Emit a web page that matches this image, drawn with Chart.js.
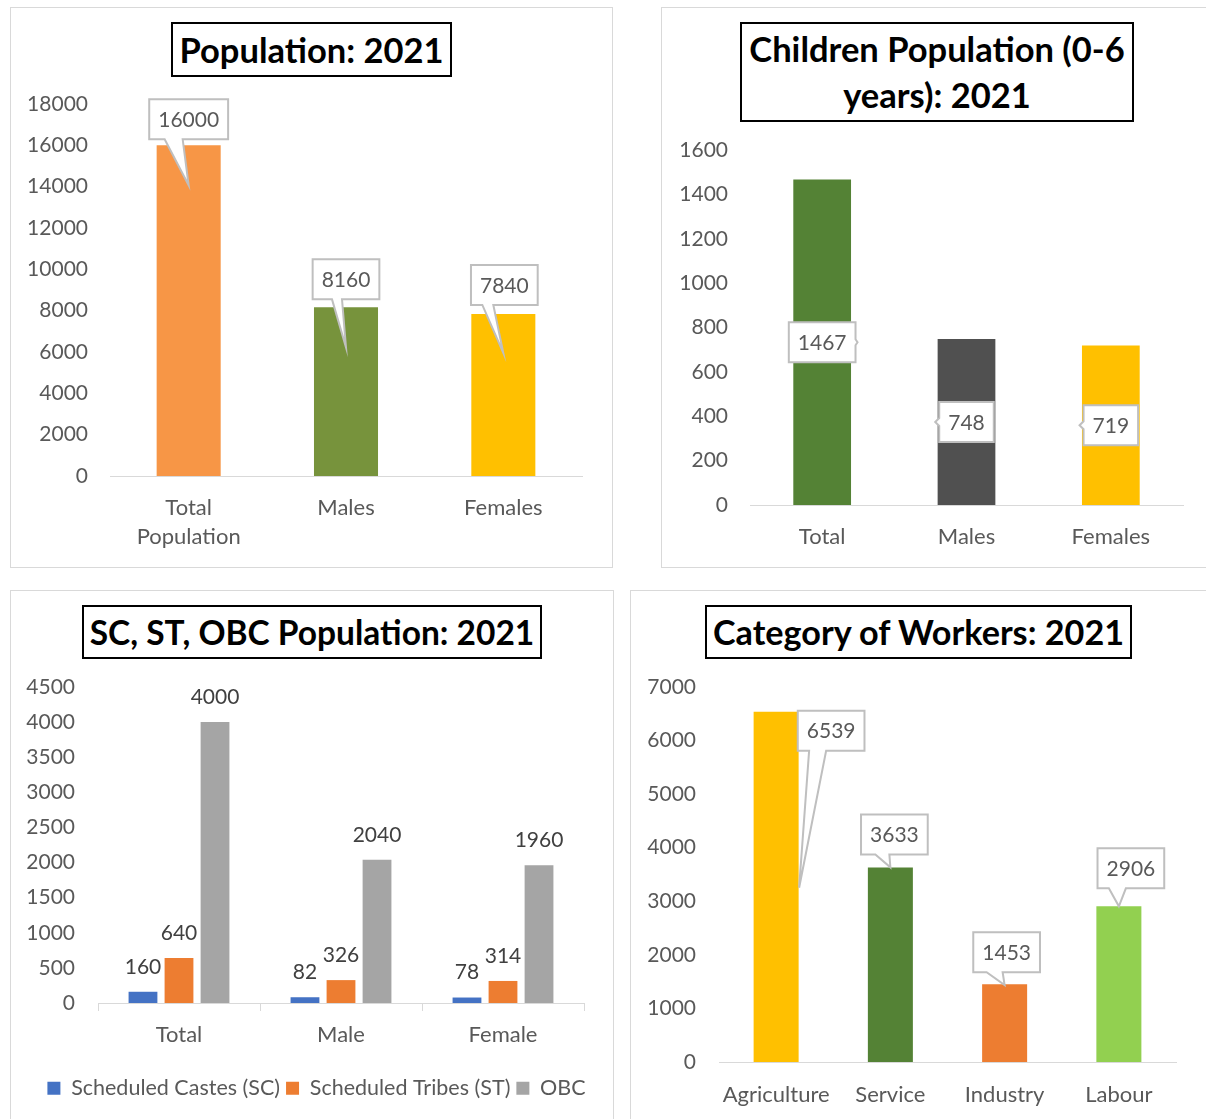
<!DOCTYPE html>
<html>
<head>
<meta charset="utf-8">
<script src="https://cdn.jsdelivr.net/npm/chart.js@4.4.0/dist/chart.umd.min.js"></script>
<style>
  body { margin: 0; background: #fff; font-family: Lato, sans-serif; width: 1206px; height: 1119px; overflow: hidden; position: relative; }
  .panel { position: absolute; border: 1px solid #d9d9d9; box-sizing: border-box; background: #fff; }
  .panel canvas { position: absolute; left: 0; top: 0; }
  .title { position: absolute; border: 2px solid #000; box-sizing: border-box; font-weight: bold; font-size: 34.5px;
           color: #000; text-align: center; display: flex; align-items: center; justify-content: center; line-height: 46px; background: #fff; white-space: nowrap; }
</style>
</head>
<body>
<div class="panel" style="left:10px;top:7px;width:603px;height:561px;"><canvas id="popChart" width="601" height="559"></canvas></div>
<div class="panel" style="left:661px;top:7px;width:560px;height:561px;"><canvas id="childChart" width="544" height="559"></canvas></div>
<div class="panel" style="left:10px;top:590px;width:604px;height:560px;"><canvas id="casteChart" width="602" height="528"></canvas></div>
<div class="panel" style="left:630px;top:590px;width:600px;height:560px;"><canvas id="workChart" width="575" height="528"></canvas></div>

<div class="title" style="left:171px;top:22px;width:281px;height:55px;">Population: 2021</div>
<div class="title" style="left:740px;top:22px;width:394px;height:100px;">Children Population (0-6<br>years): 2021</div>
<div class="title" style="left:82px;top:605px;width:460px;height:54px;font-size:33.5px;">SC, ST, OBC Population: 2021</div>
<div class="title" style="left:705px;top:605px;width:427px;height:54px;font-size:34.2px;">Category of Workers: 2021</div>

<script>
// data
const popCats = [['Total', 'Population'], 'Males', 'Females'];
const popValues = [16000, 8160, 7840];

const childCats = ['Total', 'Males', 'Females'];
const childValues = [1467, 748, 719];

const casteCats = ['Total', 'Male', 'Female'];
const scValues = [160, 82, 78];
const stValues = [640, 326, 314];
const obcValues = [4000, 2040, 1960];

const workCats = ['Agriculture', 'Service', 'Industry', 'Labour'];
const workValues = [6539, 3633, 1453, 2906];

Chart.defaults.font.family = 'Lato';
Chart.defaults.font.size = 21;
Chart.defaults.color = '#595959';

const drawBox = (ctx, x0, y0, w, h, wedge, tip, notch) => {
    ctx.beginPath();
    ctx.moveTo(x0, y0);
    ctx.lineTo(x0 + w, y0);
    if (notch === 'right') {
        ctx.lineTo(x0 + w, y0 + h / 2 - 3);
        ctx.lineTo(x0 + w + 2, y0 + h / 2);
        ctx.lineTo(x0 + w, y0 + h / 2 + 3);
    }
    ctx.lineTo(x0 + w, y0 + h);
    if (wedge) {
        ctx.lineTo(wedge[1], y0 + h);
        ctx.lineTo(tip[0], tip[1]);
        ctx.lineTo(wedge[0], y0 + h);
    }
    ctx.lineTo(x0, y0 + h);
    if (notch === 'left') {
        ctx.lineTo(x0, y0 + h / 2 + 4);
        ctx.lineTo(x0 - 4, y0 + h / 2);
        ctx.lineTo(x0, y0 + h / 2 - 4);
    }
    ctx.closePath();
    ctx.fillStyle = '#fff';
    ctx.fill();
    ctx.strokeStyle = '#bfbfbf';
    ctx.lineWidth = 2;
    ctx.stroke();
};

// value labels: callouts, boxes inside bars or plain text
const calloutPlugin = {
    id: 'callouts',
    afterLayout(chart, args, opts) {
        // nudge the legend sideways (Excel centres it slightly right)
        if (opts && opts.legendShift && chart.legend) {
            chart.legend.left += opts.legendShift;
            chart.legend.right += opts.legendShift;
        }
    },
    afterDatasetsDraw(chart, args, opts) {
        if (!opts || !opts.mode) return;
        const ctx = chart.ctx;
        ctx.save();
        ctx.font = '21px Lato';
        ctx.textAlign = 'center';
        ctx.textBaseline = 'middle';
        chart.data.datasets.forEach((ds, di) => {
            const meta = chart.getDatasetMeta(di);
            meta.data.forEach((bar, i) => {
                const text = String(ds.data[i]);
                if (opts.mode === 'plain') {
                    ctx.fillStyle = '#404040';
                    ctx.fillText(text, bar.x, bar.y - 25);
                    return;
                }
                const w = ctx.measureText(text).width + 18;
                const h = 40;
                let cx, cy;
                if (opts.mode === 'callout') {
                    const s = opts.spots[i];
                    cx = bar.x + s.dx;
                    const bottom = bar.y + s.dy;
                    cy = bottom - h / 2;
                    drawBox(ctx, cx - w / 2, bottom - h, w, h,
                        [cx + s.bl, cx + s.br], [bar.x + s.tdx, bar.y + s.tdy]);
                } else {
                    cx = bar.x;
                    cy = (bar.y + bar.base) / 2;
                    drawBox(ctx, cx - w / 2, cy - h / 2, w, h, null, null, opts.notch[i]);
                }
                ctx.fillStyle = '#595959';
                ctx.fillText(text, cx, cy + 1);
            });
        });
        ctx.restore();
    }
};

const makeBarChart = (id, area, cfg) => {
    const canvas = document.getElementById(id);
    const W = canvas.width, H = canvas.height;
    const padBottom = cfg.padBottom || 0;
    return new Chart(canvas, {
        type: 'bar',
        data: { labels: cfg.labels, datasets: cfg.datasets },
        options: {
            responsive: false,
            animation: false,
            layout: { padding: { top: area.top, right: W - area.right, left: 0, bottom: padBottom } },
            plugins: {
                legend: cfg.legend || { display: false },
                tooltip: { enabled: false },
                callouts: cfg.callouts
            },
            scales: {
                x: {
                    grid: cfg.xGrid || { display: false, drawTicks: false },
                    border: { display: true, color: '#d9d9d9', width: 1 },
                    ticks: { padding: cfg.xPad, font: { size: 22, lineHeight: 1.32 }, maxRotation: 0, autoSkip: false },
                    afterFit(s) {
                        const lg = s.chart.legend && s.chart.legend.options.display ? s.chart.legend.height : 0;
                        s.height = H - area.bottom - lg - padBottom;
                    }
                },
                y: {
                    min: 0,
                    max: cfg.max,
                    ticks: { stepSize: cfg.step, padding: cfg.yPad, callback: (v) => String(v) },
                    grid: { display: false, drawTicks: false },
                    border: { display: false },
                    afterFit(s) { s.width = area.left; }
                }
            }
        },
        plugins: [calloutPlugin]
    });
};

makeBarChart('popChart', { left: 99, right: 571, top: 96, bottom: 468 }, {
    labels: popCats,
    datasets: [{
        data: popValues,
        backgroundColor: ['#F79646', '#77933C', '#FFC000'],
        categoryPercentage: 1,
        barPercentage: 0.407
    }],
    max: 18000, step: 2000, xPad: 17, yPad: 22,
    callouts: {
        mode: 'callout',
        spots: [
            { dx: 0, dy: -6, bl: -24, br: -6, tdx: 0, tdy: 40 },
            { dx: 0, dy: -8, bl: -14, br: -4, tdx: 0, tdy: 40 },
            { dx: 1, dy: -9, bl: -22, br: -11, tdx: 0, tdy: 39 }
        ]
    }
});

makeBarChart('childChart', { left: 88, right: 521, top: 142, bottom: 497 }, {
    labels: childCats,
    datasets: [{
        data: childValues,
        backgroundColor: ['#548235', '#505050', '#FFC000'],
        categoryPercentage: 1,
        barPercentage: 0.40
    }],
    max: 1600, step: 200, xPad: 17, yPad: 22,
    callouts: { mode: 'inside', notch: ['right', 'left', 'left'] }
});

makeBarChart('casteChart', { left: 87, right: 573, top: 96, bottom: 412 }, {
    labels: casteCats,
    datasets: [
        { label: 'Scheduled Castes (SC)', data: scValues, backgroundColor: '#4472C4', categoryPercentage: 0.667, barPercentage: 0.8 },
        { label: 'Scheduled Tribes (ST)', data: stValues, backgroundColor: '#ED7D31', categoryPercentage: 0.667, barPercentage: 0.8 },
        { label: 'OBC', data: obcValues, backgroundColor: '#A5A5A5', categoryPercentage: 0.667, barPercentage: 0.8 }
    ],
    max: 4500, step: 500, xPad: 9, yPad: 23, padBottom: 10,
    xGrid: { display: true, drawOnChartArea: false, drawTicks: true, tickLength: 8, color: '#d9d9d9', offset: true },
    legend: {
        display: true,
        position: 'bottom',
        labels: { boxWidth: 13, boxHeight: 13, padding: 6, color: '#595959', font: { size: 21.5 } }
    },
    callouts: { mode: 'plain', legendShift: 19 }
});

makeBarChart('workChart', { left: 88, right: 545, top: 96, bottom: 471 }, {
    labels: workCats,
    datasets: [{
        data: workValues,
        backgroundColor: ['#FFC000', '#548235', '#ED7D31', '#92D050'],
        categoryPercentage: 1,
        barPercentage: 0.394
    }],
    max: 7000, step: 1000, xPad: 18.5, yPad: 23,
    callouts: {
        mode: 'callout',
        spots: [
            { dx: 55, dy: 39, bl: -22, br: -5, tdx: 23, tdy: 176 },
            { dx: 4, dy: -13, bl: -19, br: -5, tdx: 0, tdy: 0 },
            { dx: 2, dy: -12, bl: -20, br: -4, tdx: 0, tdy: 1 },
            { dx: 12, dy: -18, bl: -22, br: -5, tdx: 0, tdy: 0 }
        ]
    }
});
</script>
</body>
</html>
